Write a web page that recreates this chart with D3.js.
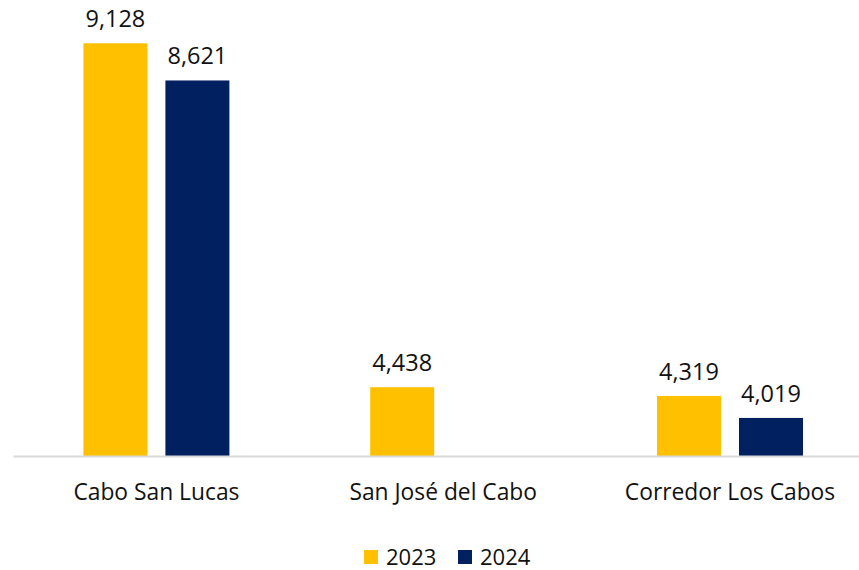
<!DOCTYPE html>
<html><head><meta charset="utf-8">
<script src="https://cdn.jsdelivr.net/npm/d3@7"></script>
<style>body{margin:0;background:#fff}svg{display:block}text{font-family:"Open Sans",sans-serif;fill:#111}</style>
</head><body><svg id="c" width="859" height="570"></svg>
<script>
const categories = ["Cabo San Lucas", "San José del Cabo", "Corredor Los Cabos"];
const seriesNames = ["2023", "2024"];
const values2023 = [9128, 4438, 4319];
const values2024 = [8621, null, 4019];
const yDomain = [3500, 9500];
const colors = ["#FFC000", "#002060"];

const svg = d3.select("#c");
const x0 = d3.scaleBand().domain(categories).range([13, 873.4]).paddingInner(0).paddingOuter(0);
const groupW = 146;
const x1 = d3.scaleBand().domain(seriesNames).range([0, groupW]).paddingInner(18/82).paddingOuter(0);
const y = d3.scaleLinear().domain(yDomain).range([456, 16]);
const series = [values2023, values2024];

const data = [];
categories.forEach((c, i) => series.forEach((s, j) => { if (s[i] != null) data.push({c, s: seriesNames[j], v: s[i], j}); }));

const g = svg.append("g");
g.selectAll("rect").data(data).enter().append("rect")
  .attr("x", d => x0(d.c) + (x0.bandwidth() - groupW) / 2 + x1(d.s))
  .attr("width", x1.bandwidth())
  .attr("y", d => y(d.v))
  .attr("height", d => y(yDomain[0]) - y(d.v))
  .attr("fill", d => colors[d.j]);

g.selectAll("text.lbl").data(data).enter().append("text").attr("class", "lbl")
  .attr("x", d => x0(d.c) + (x0.bandwidth() - groupW) / 2 + x1(d.s) + x1.bandwidth() / 2)
  .attr("y", d => y(d.v) - 16)
  .attr("text-anchor", "middle").attr("font-size", 23.5)
  .text(d => d3.format(",")(d.v));

// axis
const axis = d3.axisBottom(x0).tickSize(0).tickPadding(0);
const ax = svg.append("g").attr("transform", "translate(0,456)").call(axis);
ax.select(".domain").attr("stroke", "#d9d9d9").attr("stroke-width", 2);
ax.selectAll(".tick text").attr("font-size", 22.8).attr("fill", "#111").attr("dy", 0).attr("y", 44)
  .style("font-family", '"Open Sans",sans-serif');

// legend
const leg = svg.append("g");
const legX = [364, 458];
seriesNames.forEach((n, j) => {
  leg.append("rect").attr("x", legX[j]).attr("y", 550).attr("width", 14).attr("height", 14).attr("fill", colors[j]);
  leg.append("text").attr("x", legX[j] + 22).attr("y", 565).attr("font-size", 22).text(n);
});
</script></body></html>
